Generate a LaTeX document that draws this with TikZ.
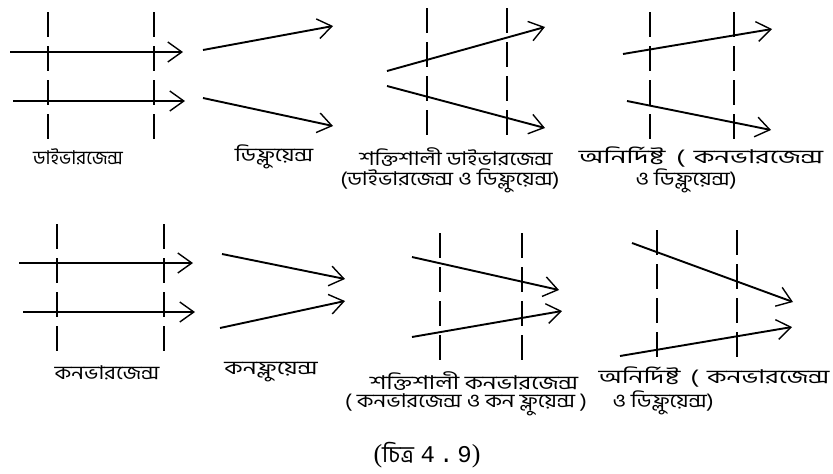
\documentclass[tikz,border=0pt]{standalone}
\usepackage{fontspec}
\setmainfont{Liberation Serif}
\newfontfamily\bn[Script=Bengali]{Hind Siliguri}
\newfontfamily\mono{Liberation Mono}
\usetikzlibrary{arrows.meta}
\newcommand{\wide}[2][1.18]{\scalebox{#1}[1]{#2}}
\tikzset{
  flow/.style={line width=1.9pt,-{Straight Barb[length=14pt,width=20pt,line width=1.4pt]}},
  guide/.style={line width=1.2pt,dash pattern=on 25pt off 9pt},
  lbl/.style={font=\bn\fontsize{19}{21}\selectfont,inner sep=0pt}
}
\begin{document}
\begin{tikzpicture}[x=1pt,y=-1pt]
\useasboundingbox (0,0) rectangle (833,474);
% ---------- panel 1: divergence
\draw[guide] (48,12) -- (48,140);
\draw[guide] (154,12) -- (154,140);
\coordinate (p1a) at (10,52);  \coordinate (p1b) at (183,52);
\coordinate (p1c) at (13,101); \coordinate (p1d) at (185,101);
\draw[flow] (p1a) -- (p1b);
\draw[flow] (p1c) -- (p1d);
\node[lbl] (l1) at (78,157) {\wide[1.0]{ডাইভারজেন্স}};
% ---------- panel 2: diffluence
\coordinate (p2a) at (203,50);  \coordinate (p2b) at (333,26);
\coordinate (p2c) at (203,98);  \coordinate (p2d) at (333,126);
\draw[flow] (p2a) -- (p2b);
\draw[flow] (p2c) -- (p2d);
\node[lbl] (l2) at (274,157) {\wide[1.22]{ডিফ্লুয়েন্স}};
% ---------- panel 3: strong divergence
\draw[guide] (427,8) -- (427,140);
\draw[guide] (507,8) -- (507,140);
\coordinate (p3a) at (387,71);  \coordinate (p3b) at (545,27);
\coordinate (p3c) at (387,86);  \coordinate (p3d) at (545,128);
\draw[flow] (p3a) -- (p3b);
\draw[flow] (p3c) -- (p3d);
\node[lbl] (l3a) at (456,157) {\wide{শক্তিশালী ডাইভারজেন্স}};
\node[lbl] (l3b) at (450,181) {\wide{(ডাইভারজেন্স ও ডিফ্লুয়েন্স)}};
% ---------- panel 4: indeterminate
\draw[guide] (650,12) -- (650,143);
\draw[guide] (734,12) -- (734,143);
\coordinate (p4a) at (623,54);  \coordinate (p4b) at (772,29);
\coordinate (p4c) at (627,101); \coordinate (p4d) at (771,130);
\draw[flow] (p4a) -- (p4b);
\draw[flow] (p4c) -- (p4d);
\node[lbl] (l4a) at (701,157) {\wide[1.46]{অনির্দিষ্ট\hspace{3pt} (\hspace{2pt} কনভারজেন্স}};
\node[lbl] (l4b) at (686,181) {\wide{ও ডিফ্লুয়েন্স)}};
% ---------- panel 5: convergence
\draw[guide] (57,224) -- (57,351);
\draw[guide] (164,224) -- (164,351);
\coordinate (p5a) at (19,263);  \coordinate (p5b) at (193,263);
\coordinate (p5c) at (23,312);  \coordinate (p5d) at (195,312);
\draw[flow] (p5a) -- (p5b);
\draw[flow] (p5c) -- (p5d);
\node[lbl] (l5) at (107,373) {\wide{কনভারজেন্স}};
% ---------- panel 6: confluence
\coordinate (p6a) at (222,254); \coordinate (p6b) at (345,279);
\coordinate (p6c) at (220,328); \coordinate (p6d) at (345,301);
\draw[flow] (p6a) -- (p6b);
\draw[flow] (p6c) -- (p6d);
\node[lbl] (l6) at (271,372) {\wide[1.3]{কনফ্লুয়েন্স}};
% ---------- panel 7: strong convergence
\draw[guide] (440,233) -- (440,365);
\draw[guide] (522,233) -- (522,365);
\coordinate (p7a) at (412,257); \coordinate (p7b) at (559,290);
\coordinate (p7c) at (412,337); \coordinate (p7d) at (562,311);
\draw[flow] (p7a) -- (p7b);
\draw[flow] (p7c) -- (p7d);
\node[lbl] (l7a) at (474,381) {\wide[1.28]{শক্তিশালী কনভারজেন্স}};
\node[lbl] (l7b) at (466,405) {\wide{( কনভারজেন্স ও কন ফ্লুয়েন্স )}};
% ---------- panel 8: indeterminate
\draw[guide] (657,230) -- (657,365);
\draw[guide] (737,230) -- (737,365);
\coordinate (p8a) at (632,243); \coordinate (p8b) at (793,302);
\coordinate (p8c) at (620,356); \coordinate (p8d) at (792,327);
\draw[flow] (p8a) -- (p8b);
\draw[flow] (p8c) -- (p8d);
\node[lbl] (l8a) at (714,377) {\wide[1.38]{অনির্দিষ্ট\hspace{3pt} (\hspace{2pt} কনভারজেন্স}};
\node[lbl] (l8b) at (663,403) {\wide{ও ডিফ্লুয়েন্স)}};
% ---------- caption
\node[inner sep=0pt,font=\fontsize{26}{28}\selectfont] (cap) at (427,455) {({\bn\fontsize{23}{26}\selectfont চিত্র} {\mono\fontsize{24}{26}\selectfont 4\,.\,9})};
\end{tikzpicture}
\end{document}
